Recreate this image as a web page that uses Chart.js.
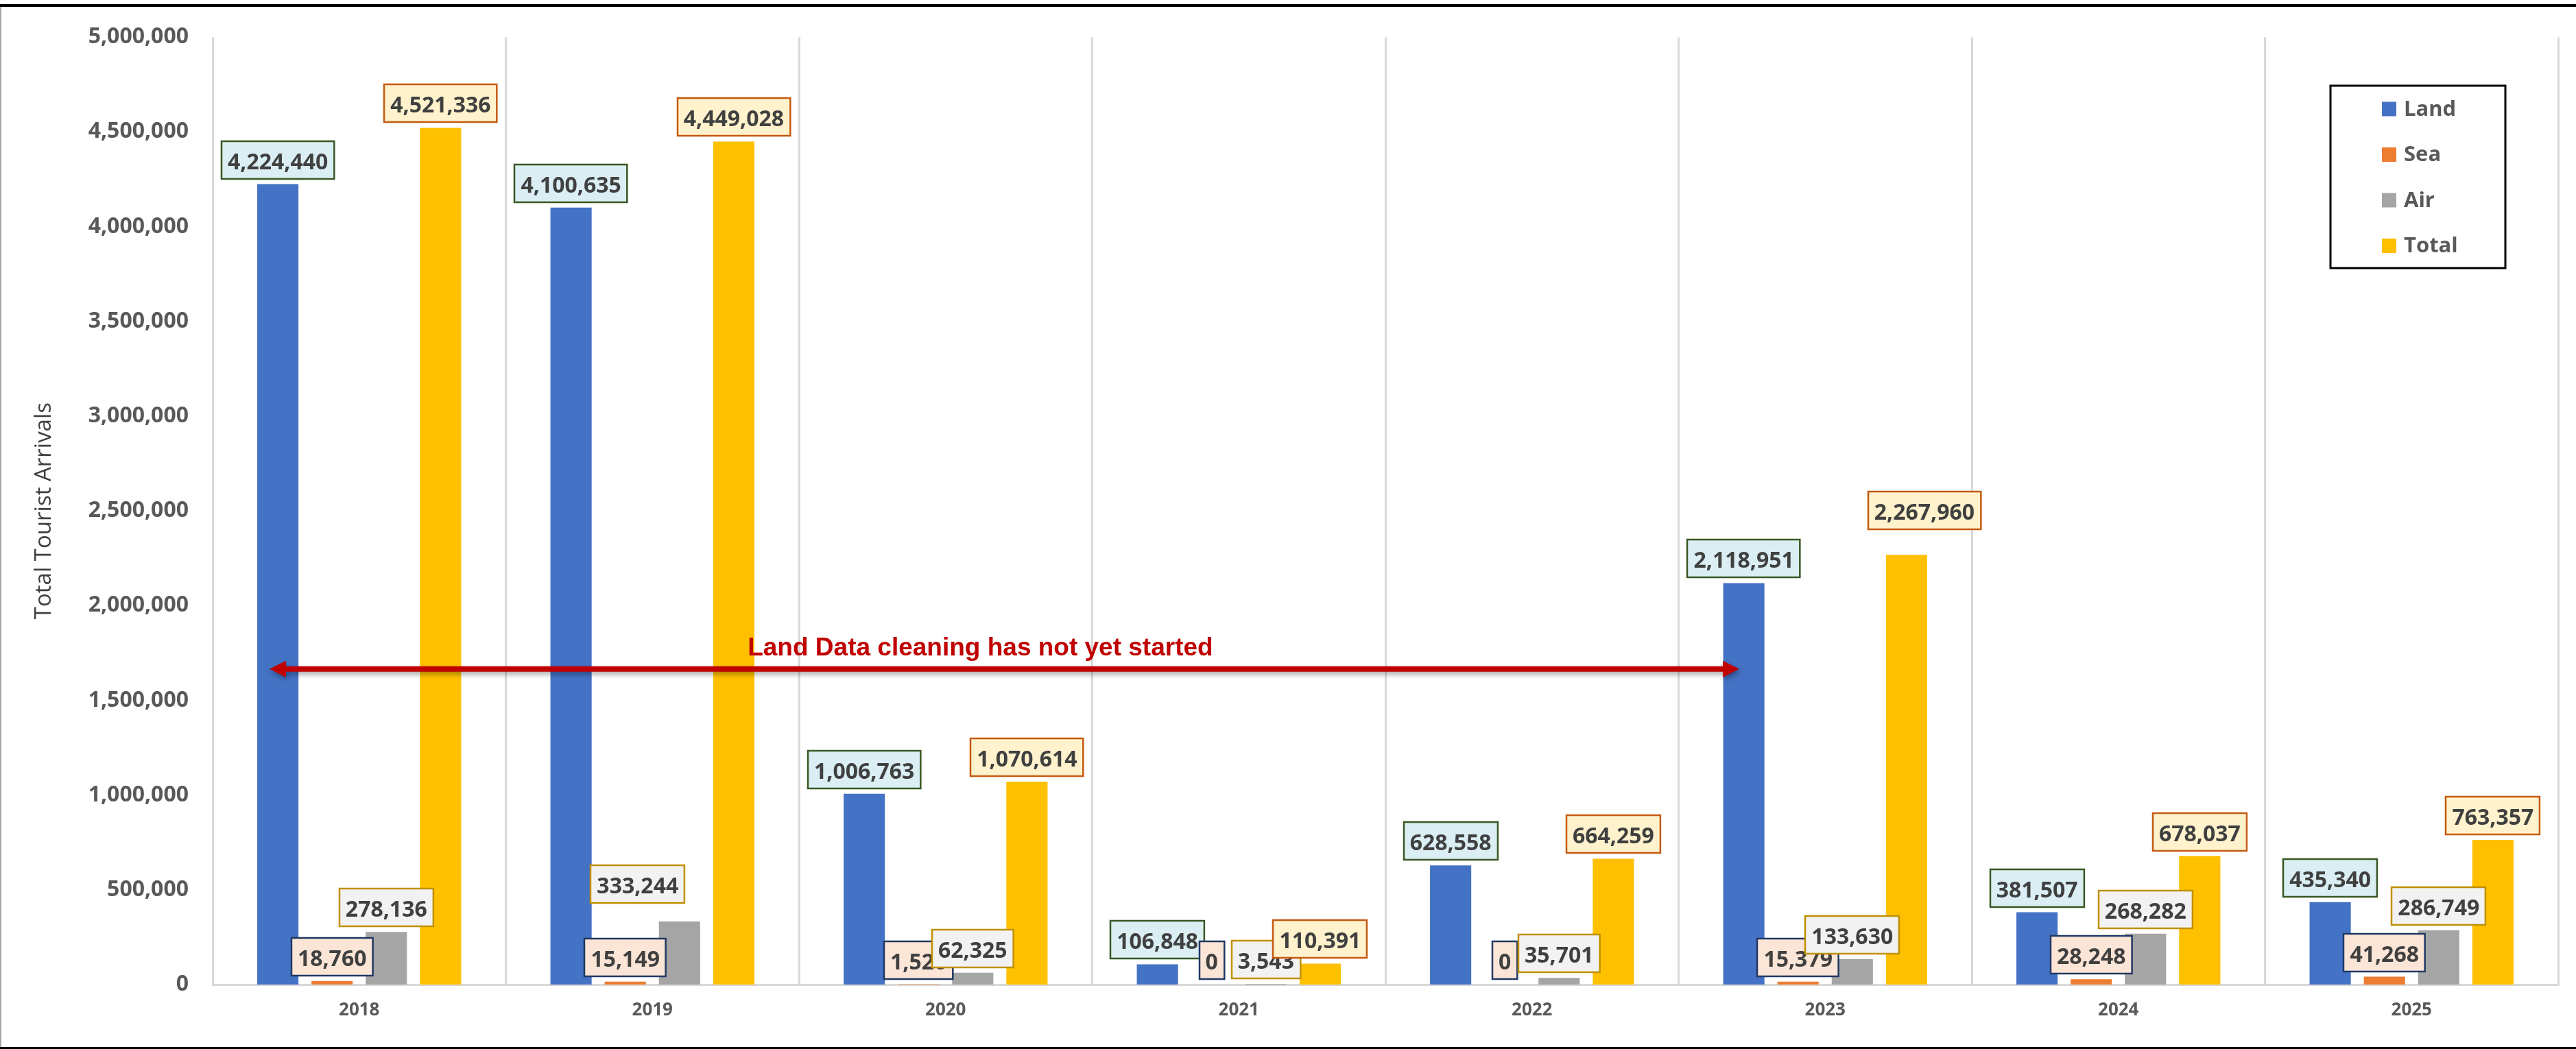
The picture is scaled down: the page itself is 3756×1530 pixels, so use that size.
<!DOCTYPE html>
<html>
<head>
<meta charset="utf-8">
<script src="https://cdn.jsdelivr.net/npm/chart.js@4.4.1/dist/chart.umd.min.js"></script>
<style>
  html, body { margin: 0; padding: 0; background: #fff; }
  canvas { display: block; }
</style>
</head>
<body>
<canvas id="barChart" width="3756" height="1530"></canvas>
<script>
    // Tourist arrivals by mode of entry
    var years = ['2018', '2019', '2020', '2021', '2022', '2023', '2024', '2025'];
    var land  = [4224440, 4100635, 1006763, 106848, 628558, 2118951, 381507, 435340];
    var sea   = [18760, 15149, 1526, 0, 0, 15379, 28248, 41268];
    var air   = [278136, 333244, 62325, 3543, 35701, 133630, 268282, 286749];
    var total = [4521336, 4449028, 1070614, 110391, 664259, 2267960, 678037, 763357];

    var yMax = 5000000;
    var yStep = 500000;

    // annotation (in axis units: category index / value)
    var noteText = 'Land Data cleaning has not yet started';
    var arrowFrom = -0.306, arrowTo = 4.707, arrowValue = 1665000;
    var noteStart = 1.325;

    // label boxes: fill / border per series
    var boxStyle = {
        'Land':  { fill: '#DAEEF3', stroke: '#385723' },
        'Sea':   { fill: '#FBE5D6', stroke: '#203864' },
        'Air':   { fill: '#F2F2F2', stroke: '#BF9000' },
        'Total': { fill: '#FFF2CC', stroke: '#C55A11' }
    };
    // a couple of labels were dragged by hand in the original
    var labelNudge = {
        'Air':   { 1: [-61, -19] },
        'Total': { 5: [26, -29] }
    };

    var fmt = function (v) { return Number(v).toLocaleString('en-US'); };

    var frame = {
        id: 'frame',
        beforeDraw: function (chart) {
            var ctx = chart.ctx;
            ctx.save();
            ctx.fillStyle = '#ffffff';
            ctx.fillRect(0, 0, chart.width, chart.height);
            ctx.restore();
        },
        afterDraw: function (chart) {
            var ctx = chart.ctx;
            ctx.save();
            ctx.fillStyle = '#000000';
            ctx.fillRect(0, 6, chart.width, 4);
            ctx.fillRect(0, chart.height - 3, chart.width, 3);
            ctx.fillStyle = '#A6A6A6';
            ctx.fillRect(0, 10, 2, chart.height - 13);
            ctx.restore();
        }
    };

    var boxLabels = {
        id: 'boxLabels',
        afterDatasetsDraw: function (chart) {
            var ctx = chart.ctx;
            ctx.save();
            ctx.font = 'bold 32px "Open Sans"';
            ctx.lineWidth = 2.5;
            chart.data.datasets.forEach(function (ds, i) {
                var meta = chart.getDatasetMeta(i);
                var st = boxStyle[ds.label];
                var nudge = labelNudge[ds.label] || {};
                meta.data.forEach(function (bar, j) {
                    var txt = fmt(ds.data[j]);
                    var w = ctx.measureText(txt).width + 18;
                    var h = 55;
                    var dx = nudge[j] ? nudge[j][0] : 0;
                    var dy = nudge[j] ? nudge[j][1] : 0;
                    var cx = bar.x + dx;
                    var bottom = bar.y - 8 + dy;
                    var x0 = Math.round(cx - w / 2), y0 = Math.round(bottom - h);
                    ctx.fillStyle = st.fill;
                    ctx.fillRect(x0, y0, w, h);
                    ctx.strokeStyle = st.stroke;
                    ctx.strokeRect(x0, y0, w, h);
                    ctx.fillStyle = '#404040';
                    ctx.textAlign = 'center';
                    ctx.textBaseline = 'alphabetic';
                    ctx.fillText(txt, cx, y0 + h / 2 + 13);
                });
            });
            ctx.restore();
        }
    };

    var arrowNote = {
        id: 'arrowNote',
        afterDraw: function (chart) {
            var ctx = chart.ctx;
            var xs = chart.scales.x, ys = chart.scales.y;
            var x1 = xs.getPixelForValue(arrowFrom);
            var x2 = xs.getPixelForValue(arrowTo);
            var y = ys.getPixelForValue(arrowValue);
            var head = 24, half = 12, shaft = 8;
            ctx.save();
            ctx.shadowColor = 'rgba(0,0,0,0.35)';
            ctx.shadowBlur = 7;
            ctx.shadowOffsetX = 2;
            ctx.shadowOffsetY = 4;
            ctx.fillStyle = '#C00000';
            ctx.beginPath();
            ctx.moveTo(x1, y);
            ctx.lineTo(x1 + head, y - half);
            ctx.lineTo(x1 + head, y - shaft / 2);
            ctx.lineTo(x2 - head, y - shaft / 2);
            ctx.lineTo(x2 - head, y - half);
            ctx.lineTo(x2, y);
            ctx.lineTo(x2 - head, y + half);
            ctx.lineTo(x2 - head, y + shaft / 2);
            ctx.lineTo(x1 + head, y + shaft / 2);
            ctx.lineTo(x1 + head, y + half);
            ctx.closePath();
            ctx.fill();
            ctx.restore();

            ctx.save();
            ctx.font = 'bold 37px "Liberation Sans"';
            ctx.fillStyle = '#C00000';
            ctx.textAlign = 'left';
            ctx.textBaseline = 'alphabetic';
            ctx.fillText(noteText, xs.getPixelForValue(noteStart), y - 20);
            ctx.restore();
        }
    };

    var boxLegend = {
        id: 'boxLegend',
        afterDraw: function (chart) {
            var ctx = chart.ctx;
            var left = 3398, top = 125, right = 3653, bottom = 391;
            ctx.save();
            ctx.fillStyle = '#ffffff';
            ctx.fillRect(left, top, right - left, bottom - top);
            ctx.strokeStyle = '#000000';
            ctx.lineWidth = 3;
            ctx.strokeRect(left, top, right - left, bottom - top);
            ctx.font = 'bold 31px "Open Sans"';
            ctx.textAlign = 'left';
            ctx.textBaseline = 'middle';
            chart.data.datasets.forEach(function (ds, i) {
                var cy = 159 + i * 66.5;
                ctx.fillStyle = ds.backgroundColor;
                ctx.fillRect(3473, cy - 10.5, 21, 21);
                ctx.fillStyle = '#595959';
                ctx.fillText(ds.label, 3505, cy + 1);
            });
            ctx.restore();
        }
    };

    var ctxBar = document.getElementById('barChart').getContext('2d');
    var myBarChart = new Chart(ctxBar, {
        type: 'bar',
        data: {
            labels: years,
            datasets: [
                { label: 'Land',  data: land,  backgroundColor: '#4472C4' },
                { label: 'Sea',   data: sea,   backgroundColor: '#ED7D31' },
                { label: 'Air',   data: air,   backgroundColor: '#A5A5A5' },
                { label: 'Total', data: total, backgroundColor: '#FFC000' }
            ]
        },
        options: {
            responsive: false,
            maintainAspectRatio: false,
            devicePixelRatio: 1,
            animation: false,
            categoryPercentage: 0.74,
            barPercentage: 0.76,
            layout: { padding: { left: 0, right: 26, top: 43, bottom: 0 } },
            plugins: {
                legend: { display: false },
                tooltip: { enabled: false }
            },
            scales: {
                x: {
                    grid: { color: '#D9D9D9', lineWidth: 3, drawTicks: false, offset: true },
                    border: { color: '#D9D9D9', width: 3 },
                    ticks: {
                        color: '#595959',
                        padding: 22,
                        font: { family: 'Open Sans', size: 26, weight: 'bold' }
                    },
                    afterFit: function (s) { s.height = 94; }
                },
                y: {
                    min: 0,
                    max: yMax,
                    grid: { display: false, drawTicks: false },
                    border: { display: false },
                    ticks: {
                        stepSize: yStep,
                        color: '#595959',
                        padding: 35,
                        font: { family: 'Open Sans', size: 32, weight: 'bold' },
                        callback: function (v) { return fmt(v); }
                    },
                    title: {
                        display: true,
                        text: 'Total Tourist Arrivals',
                        color: '#404040',
                        font: { family: 'Open Sans', size: 33 },
                        padding: { top: 45, bottom: 0 }
                    },
                    afterFit: function (s) { s.width = 310; }
                }
            }
        },
        plugins: [frame, boxLabels, arrowNote, boxLegend]
    });
</script>
</body>
</html>
